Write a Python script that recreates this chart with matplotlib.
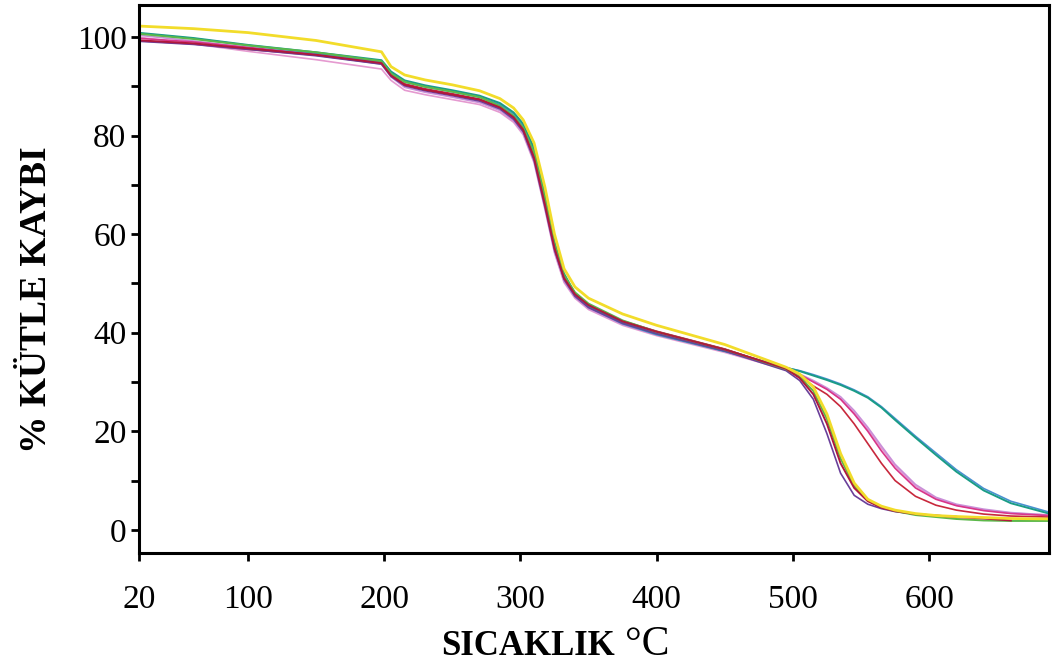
import numpy as np
import matplotlib.pyplot as plt
from matplotlib.ticker import MultipleLocator

plt.rcParams['font.family'] = ['Liberation Serif', 'DejaVu Serif']

# Sicaklik noktalari (°C)
sicaklik = [22, 60, 100, 150, 198, 205, 215, 230, 250, 270, 285, 295, 302, 310, 318, 325,
            332, 340, 350, 375, 400, 450, 495, 505, 515, 525, 535, 545, 555, 565, 575, 590,
            605, 620, 640, 660, 688]

# % kutle kaybi egrileri
sari = [102.2, 101.7, 100.9, 99.3, 97.0, 94.0, 92.3, 91.3, 90.3, 89.1, 87.5, 85.6, 83.2, 78.5,
        69.5, 60.0, 53.0, 49.3, 47.0, 43.8, 41.5, 37.6, 33.0, 31.6, 29.0, 23.5, 15.5, 9.5, 6.2,
        4.8, 4.0, 3.3, 2.9, 2.7, 2.5, 2.3, 2.2]
yesil = [100.6, 99.6, 98.3, 96.9, 95.1, 92.6, 90.9, 89.9, 88.9, 87.8, 86.0, 84.0, 81.6, 76.5,
         67.0, 57.8, 51.6, 48.2, 45.9, 42.5, 40.2, 36.6, 32.6, 31.0, 28.2, 22.5, 14.5, 9.0, 6.0,
         4.6, 3.8, 3.0, 2.6, 2.2, 1.9, 1.8, 1.8]
mor = [99.1, 98.5, 97.5, 96.2, 94.5, 92.0, 90.1, 89.1, 88.1, 87.0, 85.4, 83.3, 80.8, 75.0,
       65.5, 56.8, 50.8, 47.4, 45.1, 41.9, 39.8, 36.3, 32.3, 30.3, 26.5, 19.5, 11.5, 7.0, 5.2,
       4.3, 3.7, 3.2, 2.9, 2.7, np.nan, np.nan, np.nan]
kirmizi = [99.3, 98.7, 97.7, 96.4, 94.7, 92.2, 90.3, 89.3, 88.3, 87.3, 85.7, 83.7, 81.2, 75.5,
           66.0, 57.2, 51.1, 47.8, 45.6, 42.3, 40.2, 36.6, 32.7, 30.8, 27.5, 21.5, 13.5, 8.5,
           5.8, 4.5, 3.8, 3.2, 2.9, 2.6, 2.3, 1.9, np.nan]
bordo = [99.2, 98.6, 97.5, 96.3, 94.6, 92.4, 90.5, 89.5, 88.5, 87.4, 85.8, 83.7, 81.2, 76.0,
         66.5, 57.5, 51.3, 48.0, 45.7, 42.4, 40.3, 36.7, 32.6, 31.0, 29.2, 27.5, 25.0, 21.5,
         17.5, 13.5, 10.0, 6.8, 5.0, 4.0, 3.2, 2.8, 2.6]
macenta = [99.7, 99.0, 97.9, 96.5, 94.8, 92.4, 90.4, 89.3, 88.3, 87.2, 85.6, 83.5, 81.0, 75.5,
           66.0, 57.0, 51.0, 47.7, 45.4, 42.2, 40.1, 36.6, 32.8, 31.5, 30.0, 28.5, 26.5, 23.5,
           20.0, 16.0, 12.5, 8.5, 6.2, 4.9, 3.9, 3.3, 2.9]
lila = [100.3, 99.2, 97.9, 96.4, 94.5, 91.9, 89.8, 88.8, 87.8, 86.7, 85.1, 83.0, 80.5, 74.8,
        65.3, 56.5, 50.5, 47.2, 44.9, 41.7, 39.6, 36.2, 32.6, 31.6, 30.3, 28.8, 27.0, 24.2,
        20.8, 17.0, 13.3, 9.2, 6.6, 5.2, 4.2, 3.5, 3.0]
pembe = [99.9, 98.6, 97.1, 95.4, 93.5, 91.2, 89.2, 88.3, 87.3, 86.3, 84.7, 82.7, 80.2, 74.5,
         65.0, 56.2, 50.2, 47.0, 44.7, 41.5, 39.4, 36.0, 32.5, 31.5, 30.1, 28.6, 26.6, 23.8,
         20.4, 16.6, 13.0, 8.9, 6.4, 5.0, 4.0, 3.4, 3.0]
turkuaz = [100.8, 99.8, 98.4, 96.9, 95.3, 93.0, 91.2, 90.2, 89.2, 88.1, 86.6, 84.7, 82.4, 77.5,
           68.0, 58.5, 52.0, 48.0, 45.5, 42.0, 39.8, 36.3, 32.9, 32.2, 31.3, 30.4, 29.4, 28.2,
           26.8, 24.8, 22.3, 18.7, 15.2, 11.8, 8.0, 5.4, 3.3]
mavi = [100.7, 99.7, 98.3, 96.7, 95.0, 92.7, 90.9, 89.9, 88.9, 87.8, 86.3, 84.4, 82.0, 77.0,
        67.5, 58.0, 51.6, 47.7, 45.2, 41.8, 39.6, 36.2, 32.9, 32.3, 31.5, 30.6, 29.6, 28.4,
        27.0, 25.0, 22.6, 19.0, 15.6, 12.2, 8.4, 5.8, 3.6]

egriler = [
    (pembe, '#e59ad0', 1.2),
    (lila, '#c98fd8', 1.2),
    (macenta, '#d8358a', 1.2),
    (bordo, '#c8283c', 1.2),
    (mavi, '#4a90d0', 1.2),
    (turkuaz, '#1a9c86', 1.4),
    (mor, '#6a3f9a', 1.2),
    (yesil, '#5cb84a', 1.4),
    (kirmizi, '#b0183c', 1.4),
    (sari, '#f2dc2a', 2.0),
]

fig = plt.figure(figsize=(10.52, 6.68), dpi=100)
ax = fig.add_axes([139 / 1052, 1 - 553 / 668, (1049 - 139) / 1052, (553 - 5) / 668])

for degerler, renk, kalinlik in egriler:
    ax.plot(sicaklik, degerler, color=renk, lw=kalinlik)

ax.set_xlim(20, 688)
ax.set_ylim(-4.7, 106.5)
ax.set_xticks([20, 100, 200, 300, 400, 500, 600])
ax.set_yticks([0, 20, 40, 60, 80, 100])
ax.yaxis.set_minor_locator(MultipleLocator(10))

for s in ax.spines.values():
    s.set_linewidth(2.2)
ax.tick_params(which='both', direction='out', length=6, width=2, labelsize=24)
ax.tick_params(axis='x', pad=17)
ax.tick_params(axis='y', pad=3)

fig.text(0.035, 0.551, '% KÜTLE KAYBI', rotation=90, ha='center', va='center',
         fontsize=27, fontweight='bold')
fig.text(615 / 1052, 0.02, 'SICAKLIK', ha='right', va='baseline',
         fontsize=25, fontweight='bold')
fig.text(625 / 1052, 0.02, '°C', ha='left', va='baseline', fontsize=30)

fig.savefig('out.png', dpi=100)
